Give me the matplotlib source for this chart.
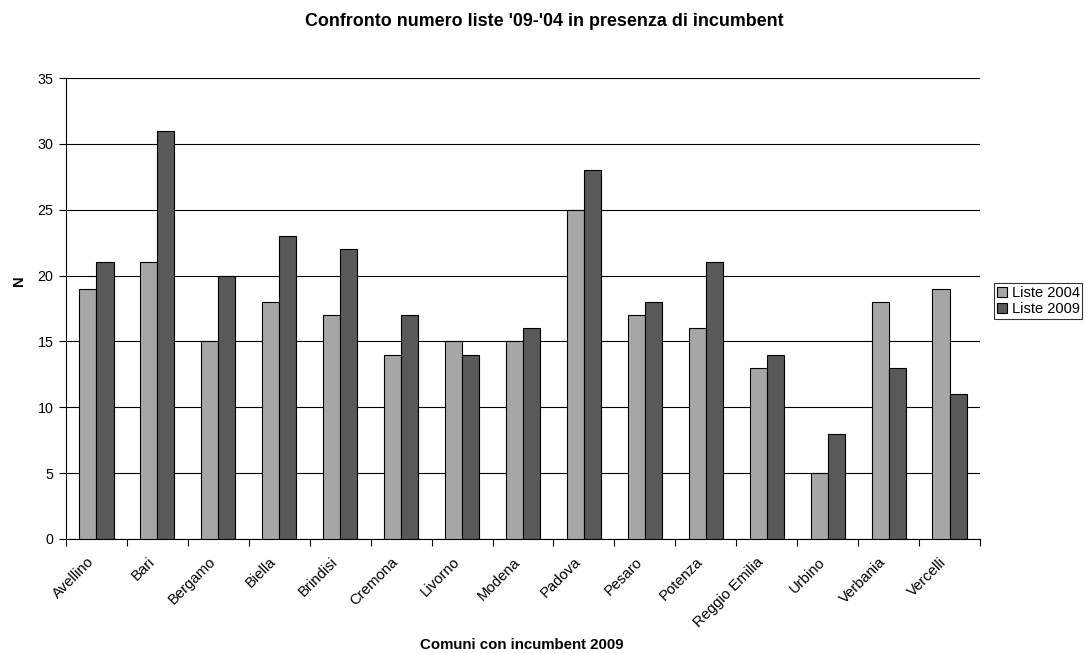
import matplotlib
matplotlib.use("Agg")
import matplotlib.pyplot as plt
import matplotlib.transforms as mtransforms
import numpy as np

comuni = ["Avellino", "Bari", "Bergamo", "Biella", "Brindisi", "Cremona", "Livorno",
          "Modena", "Padova", "Pesaro", "Potenza", "Reggio Emilia", "Urbino",
          "Verbania", "Vercelli"]
liste_2004 = [19, 21, 15, 18, 17, 14, 15, 15, 25, 17, 16, 13, 5, 18, 19]
liste_2009 = [21, 31, 20, 23, 22, 17, 14, 16, 28, 18, 21, 14, 8, 13, 11]
y_ticks = [0, 5, 10, 15, 20, 25, 30, 35]

plt.rcParams["font.family"] = ["Liberation Sans", "DejaVu Sans"]

W, H = 1086, 653
fig = plt.figure(figsize=(W / 100, H / 100), dpi=100)
ax = fig.add_axes([66 / W, 1 - 539 / H, (980 - 66) / W, (539 - 78) / H])

x = np.arange(len(comuni))
w = 0.28
ax.bar(x - w / 2, liste_2004, w, color="#a6a6a6", edgecolor="black", linewidth=0.8,
       label="Liste 2004", zorder=3)
ax.bar(x + w / 2, liste_2009, w, color="#595959", edgecolor="black", linewidth=0.8,
       label="Liste 2009", zorder=3)

ax.set_xlim(-0.5, len(comuni) - 0.5)
ax.set_ylim(0, 35)
ax.set_yticks(y_ticks)
ax.yaxis.grid(True, color="black", linewidth=0.8, zorder=0)
ax.set_axisbelow(True)

# category labels centred, tick marks between categories
ax.set_xticks(np.arange(-0.5, len(comuni)), minor=False)
ax.set_xticklabels([])
ax.set_xticks(x, minor=True)
ax.set_xticklabels(comuni, minor=True, rotation=45, ha="right", rotation_mode="anchor",
                   fontsize=10.7)
ax.tick_params(axis="x", which="minor", length=0, pad=7)
ax.tick_params(axis="x", which="major", length=5, direction="out", width=0.8)
ax.tick_params(axis="y", length=5, direction="out", width=0.8, labelsize=10.3, pad=4)

shift = mtransforms.ScaledTranslation(-10 / 100, -6 / 100, fig.dpi_scale_trans)
for lbl in ax.get_xticklabels(minor=True):
    lbl.set_transform(lbl.get_transform() + shift)

for s in ["top", "right"]:
    ax.spines[s].set_visible(False)
for s in ["left", "bottom"]:
    ax.spines[s].set_linewidth(0.8)

fig.text(19 / W, 1 - 281 / H, "N", rotation=90, ha="center", va="center",
         fontsize=10.5, fontweight="bold")
fig.text(522 / W, 1 - 645 / H, "Comuni con incumbent 2009", ha="center", va="center",
         fontsize=10.8, fontweight="bold")
fig.text(544 / W, 1 - 22 / H, "Confronto numero liste '09-'04 in presenza di incumbent",
         ha="center", va="center", fontsize=12.9, fontweight="bold")

leg = fig.legend(loc="upper left", bbox_to_anchor=(994 / W, 1 - 283 / H),
                 fontsize=10.5, frameon=True, fancybox=False, edgecolor="black",
                 handlelength=0.7, handleheight=0.7, handletextpad=0.3,
                 borderpad=0.2, labelspacing=0.15, borderaxespad=0)
leg.get_frame().set_linewidth(0.8)

fig.savefig("out.png", dpi=100)
